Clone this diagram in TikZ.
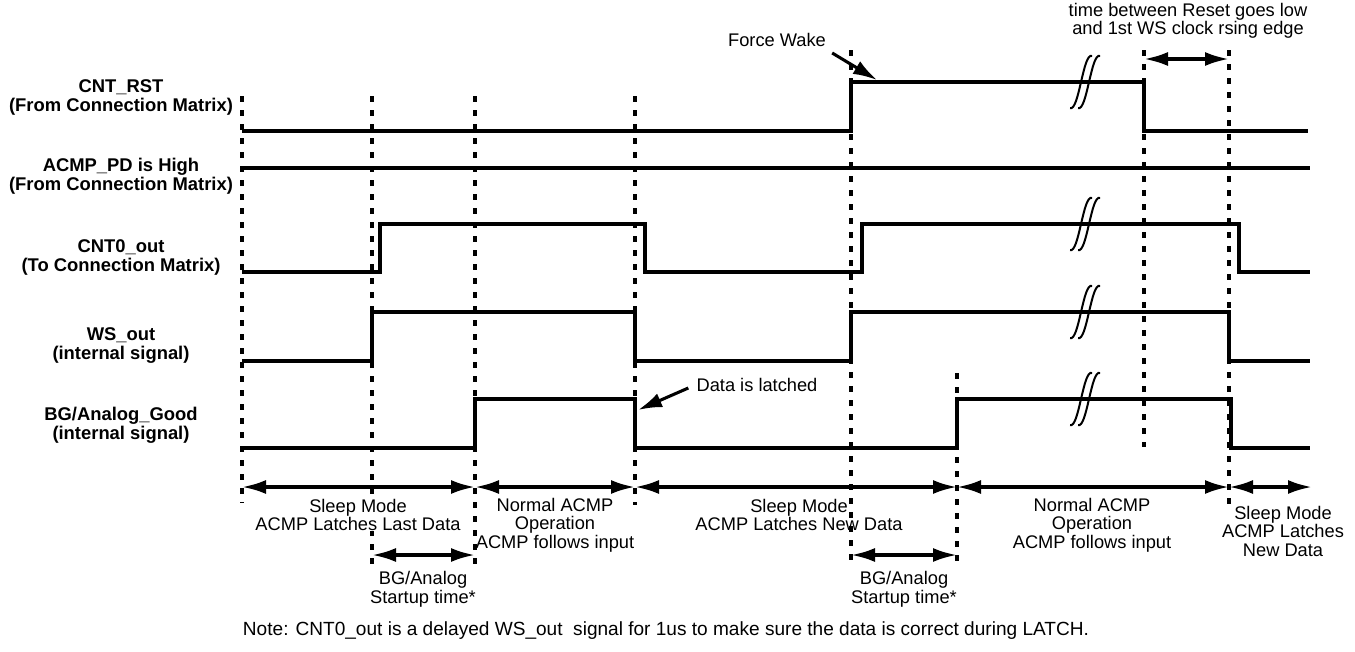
\documentclass[tikz,border=0pt]{standalone}
\usepackage{fontspec}
\setmainfont{Liberation Sans}
\usetikzlibrary{arrows.meta}

\begin{document}
\begin{tikzpicture}[x=0.75pt,y=-0.75pt,
  sig/.style={line width=2.4pt},
  guide/.style={line width=2.3pt,dash pattern=on 4.5pt off 6pt},
  span/.style={line width=2.5pt,{Latex[length=18pt,width=10.5pt]}-{Latex[length=18pt,width=10.5pt]}},
  callout/.style={line width=2.3pt,-{Latex[length=18pt,width=11pt]}},
  brk/.style={line width=1.5pt},
  lbl/.style={font=\fontsize{13.8}{14.25}\selectfont\bfseries,align=center,inner sep=0pt},
  txt/.style={font=\fontsize{13.7}{13.9}\selectfont,align=center,inner sep=0pt}]
\useasboundingbox (0,0) rectangle (1355,651);
% dotted time markers
\foreach \x/\a/\b in {242/96/503, 372/96/568, 475/96/568, 635/96/505,
                      851/50/568, 957/373/568, 1144/50/447, 1229/50/512}
  \draw[guide] (\x,\a) -- (\x,\b);
% signal names
\node[lbl] (rst) at (121,97) {CNT\_RST\\(From Connection Matrix)};
\node[lbl] (pd) at (121,176) {ACMP\_PD is High\\(From Connection Matrix)};
\node[lbl] (cnt) at (121,257) {CNT0\_out\\(To Connection Matrix)};
\node[lbl] (ws) at (121,346) {WS\_out\\(internal signal)};
\node[lbl] (bg) at (121,425) {BG/Analog\_Good\\(internal signal)};
% waveforms
\draw[sig] (242,131) -- (851,131) -- (851,82) -- (1144,82) -- (1144,131) -- (1308,131);
\draw[sig] (242,168) -- (1310,168);
\draw[sig] (242,272) -- (380,272) -- (380,224) -- (645,224) -- (645,272) -- (862,272)
  -- (862,224) -- (1239,224) -- (1239,272) -- (1310,272);
\draw[sig] (242,361) -- (372,361) -- (372,312) -- (635,312) -- (635,361) -- (851,361)
  -- (851,312) -- (1229,312) -- (1229,361) -- (1310,361);
\draw[sig] (242,448) -- (475,448) -- (475,399) -- (635,399) -- (635,448) -- (957,448)
  -- (957,399) -- (1231,399) -- (1231,448) -- (1310,448);
% breaks
\foreach \y in {82,224,312,399}
  \foreach \d in {0,8}
    \draw[brk] (1070+\d,\y+26) .. controls (1079+\d,\y+30) and (1083+\d,\y-30) .. (1092+\d,\y-26);
% phases
\draw[span] (242,487) -- (475,487);
\draw[span] (475,487) -- (635,487);
\draw[span] (635,487) -- (957,487);
\draw[span] (957,487) -- (1229,487);
\draw[span] (1229,487) -- (1312,487);
\draw[span] (372,555) -- (475,555);
\draw[span] (851,555) -- (957,555);
\draw[span] (1144,59) -- (1229,59);
\node[txt,fill=white] (sl1) at (358,515) {Sleep Mode\\ACMP Latches Last Data};
\node[txt] (nm1) at (555,525) {Normal ACMP\\Operation\\ACMP follows input};
\node[txt] (sl2) at (799,515) {Sleep Mode\\ACMP Latches New Data};
\node[txt] (nm2) at (1092,525) {Normal ACMP\\Operation\\ACMP follows input};
\node[txt] (sl3) at (1283,531) {Sleep Mode\\ACMP Latches\\New Data};
\node[txt] (su1) at (423,589) {BG/Analog\\Startup time*};
\node[txt] (su2) at (904,589) {BG/Analog\\Startup time*};
\node[txt] (gap) at (1188,21) {time between Reset goes low\\and 1st WS clock rsing edge};
% callouts
\node[txt] (fw) at (777,40) {Force Wake};
\coordinate (fwtip) at (877,80);
\draw[callout] ([shift={(6,6)}]fw.south east) -- (fwtip);
\node[txt] (dl) at (757,385) {Data is latched};
\coordinate (dltip) at (638,410);
\draw[callout] ([shift={(-8,3)}]dl.west) -- (dltip);
\node[txt,font=\fontsize{14.3}{15}\selectfont] (nb) at (666,631)
  {Note: CNT0\_out is a delayed WS\_out\ \ signal for 1us to make sure the data is correct during LATCH.};
\end{tikzpicture}
\end{document}
